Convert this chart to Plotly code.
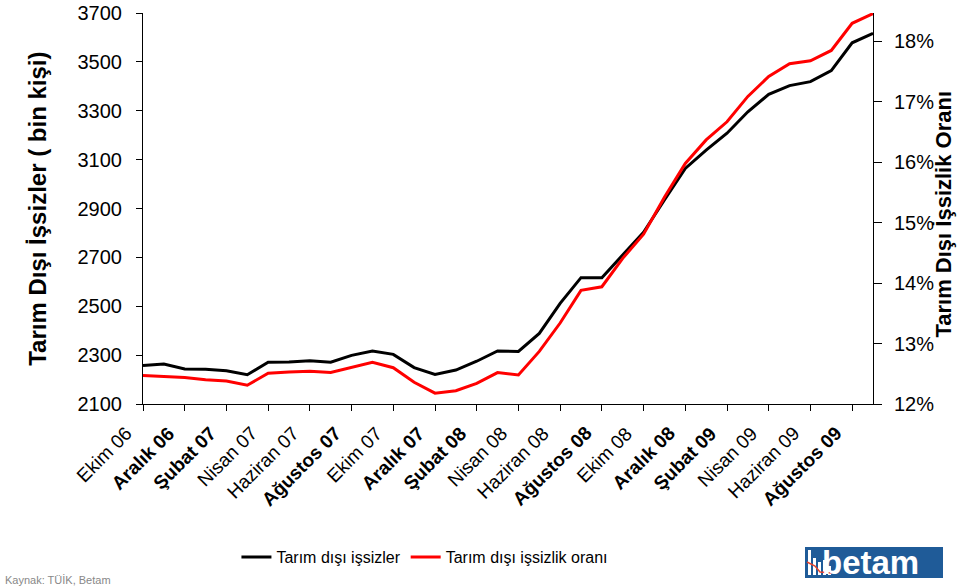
import plotly.graph_objects as go

months = [
    "Ekim 06", "Kasım 06", "Aralık 06", "Ocak 07", "Şubat 07", "Mart 07",
    "Nisan 07", "Mayıs 07", "Haziran 07", "Temmuz 07", "Ağustos 07", "Eylül 07",
    "Ekim 07", "Kasım 07", "Aralık 07", "Ocak 08", "Şubat 08", "Mart 08",
    "Nisan 08", "Mayıs 08", "Haziran 08", "Temmuz 08", "Ağustos 08", "Eylül 08",
    "Ekim 08", "Kasım 08", "Aralık 08", "Ocak 09", "Şubat 09", "Mart 09",
    "Nisan 09", "Mayıs 09", "Haziran 09", "Temmuz 09", "Ağustos 09", "Eylül 09",
]

issizler = [2258, 2264, 2243, 2242, 2236, 2220, 2271, 2272, 2277, 2271, 2299, 2317,
            2303, 2249, 2221, 2239, 2275, 2317, 2315, 2389, 2512, 2617, 2617, 2710,
            2803, 2935, 3064, 3139, 3208, 3296, 3367, 3403, 3419, 3464, 3578, 3617]

oran = [12.47, 12.46, 12.44, 12.40, 12.38, 12.31, 12.51, 12.53, 12.54, 12.52, 12.61, 12.69,
        12.60, 12.36, 12.18, 12.22, 12.34, 12.52, 12.48, 12.87, 13.34, 13.88, 13.94, 14.41,
        14.81, 15.42, 15.98, 16.37, 16.67, 17.09, 17.42, 17.63, 17.68, 17.85, 18.30, 18.46]

tick_months = months[::2]
bold_words = ("Aralık", "Şubat", "Ağustos")
tick_text = [f"<b>{m}</b>" if m.split()[0] in bold_words else m for m in tick_months]

left_ticks = [2100, 2300, 2500, 2700, 2900, 3100, 3300, 3500, 3700]
right_ticks = [12, 13, 14, 15, 16, 17, 18]
right_text = [f"{v}%" for v in right_ticks]

FONT = "Liberation Sans, Arial, sans-serif"

fig = go.Figure()
fig.add_trace(go.Scatter(x=months, y=issizler, mode="lines", name="Tarım dışı işsizler",
                         line=dict(color="#000000", width=3)))
fig.add_trace(go.Scatter(x=months, y=oran, mode="lines", name="Tarım dışı işsizlik oranı",
                         line=dict(color="#ff0000", width=3), yaxis="y2"))

fig.update_layout(
    width=973, height=586,
    margin=dict(l=143, r=100, t=13, b=182, autoexpand=False),
    paper_bgcolor="white", plot_bgcolor="white",
    font=dict(family=FONT, color="#000000"),
    showlegend=True,
    legend=dict(orientation="h", x=0.128, y=-0.348, xanchor="left", yanchor="top",
                font=dict(size=16, family=FONT), bgcolor="rgba(0,0,0,0)",
                itemwidth=30, tracegroupgap=0),
    xaxis=dict(
        type="category", range=[0, 35], tickmode="array", automargin=False,
        tickvals=tick_months, showticklabels=False,
        ticks="outside", ticklen=6, tickcolor="#000", tickwidth=1,
        showline=True, linecolor="#000", linewidth=1, showgrid=False, zeroline=False,
    ),
    yaxis=dict(
        range=[2100, 3700], tickmode="array", tickvals=left_ticks, automargin=False,
        ticks="outside", ticklen=6, tickcolor="#000", tickwidth=1,
        showline=True, linecolor="#000", linewidth=1, showgrid=False, zeroline=False,
        tickfont=dict(size=20, family=FONT), ticklabelstandoff=10,
        ticklabeloverflow="allow",
    ),
    yaxis2=dict(
        overlaying="y", side="right", range=[12, 18.47], tickmode="array",
        tickvals=right_ticks, ticktext=right_text, automargin=False,
        ticks="outside", ticklen=8, tickcolor="#000", tickwidth=1,
        showline=True, linecolor="#000", linewidth=1, showgrid=False, zeroline=False,
        tickfont=dict(size=20, family=FONT), ticklabelstandoff=8,
        ticklabeloverflow="allow",
    ),
)

annotations = []
# rotated category labels
for m, t in zip(tick_months, tick_text):
    annotations.append(dict(text=t, x=m, xref="x", y=0, yref="paper",
                            xanchor="right", yanchor="top", textangle=-45,
                            xshift=-4, yshift=-16, showarrow=False,
                            font=dict(size=19, family=FONT, color="#000")))

annotations += [
    dict(text="<b>Tarım Dışı İşsizler ( bin kişi)</b>", x=-0.166, y=0.50,
         xref="paper", yref="paper", textangle=-90, showarrow=False,
         font=dict(size=24, family=FONT, color="#000")),
    dict(text="<b>Tarım Dışı İşsizlik Oranı</b>", x=1.116, y=0.485,
         xref="paper", yref="paper", textangle=-90, showarrow=False,
         font=dict(size=22, family=FONT, color="#000")),
    dict(text="<b>betam</b>", x=0.996, y=-0.405, xref="paper", yref="paper",
         xanchor="center", yanchor="middle", showarrow=False,
         font=dict(size=33, family=FONT, color="#ffffff")),
    dict(text="Kaynak: TÜİK, Betam", x=-0.192, y=-0.43, xref="paper", yref="paper",
         xanchor="left", yanchor="top", showarrow=False,
         font=dict(size=11, family=FONT, color="#888888")),
]
fig.update_layout(annotations=annotations)

# betam logo box
def px_x(p):
    return (p - 143) / 730.0

def px_y(p):
    return -(p - 404) / 391.0

shapes = [
    dict(type="rect", xref="paper", yref="paper", x0=px_x(805), x1=px_x(943),
         y0=px_y(578), y1=px_y(547), fillcolor="#1f5b98", line=dict(width=0), layer="above"),
]
bars = [(808, 811, 550), (813, 816, 558), (818, 821, 562), (823, 826, 560), (828, 831, 566)]
for bx0, bx1, by in bars:
    shapes.append(dict(type="rect", xref="paper", yref="paper", x0=px_x(bx0), x1=px_x(bx1),
                       y0=px_y(575), y1=px_y(by), fillcolor="#ffffff", line=dict(width=0),
                       layer="above"))
shapes.append(dict(type="path", xref="paper", yref="paper", layer="above",
                   path=f"M {px_x(807)},{px_y(562)} L {px_x(815)},{px_y(566)} L {px_x(820)},{px_y(572)} L {px_x(832)},{px_y(573)}",
                   line=dict(color="#e8452c", width=1.5)))
fig.update_layout(shapes=shapes)

fig.write_html("out.html", config={"displayModeBar": False},
               post_script="document.body.style.margin='0px';document.body.style.overflow='hidden';")
